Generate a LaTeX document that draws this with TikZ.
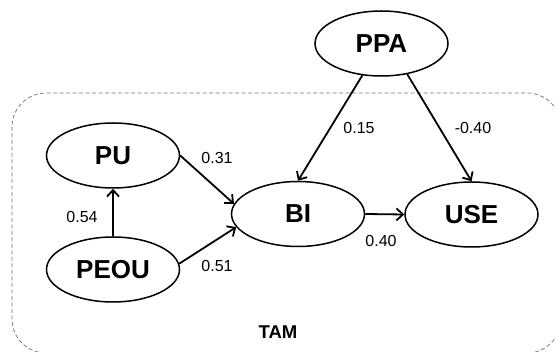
\documentclass[tikz,border=0pt]{standalone}
\usepackage{fontspec}
\setmainfont{Liberation Sans}
\usetikzlibrary{shapes.geometric,arrows.meta}
\tikzset{
  construct/.style={draw, ellipse, line width=1.5pt, minimum width=133pt, minimum height=65pt, inner sep=0pt,
    font=\fontsize{26}{30}\selectfont\bfseries},
  path/.style={draw, line width=1.8pt, -{Straight Barb[length=6.5pt,width=12pt]}},
  coef/.style={font=\fontsize{16}{19}\selectfont, inner sep=0pt},
  tambox/.style={draw=black!55, line width=0.7pt, dash pattern=on 4pt off 2.5pt, rounded corners=34pt}
}
\begin{document}
\begin{tikzpicture}[x=1pt,y=-1pt]
\useasboundingbox (0,0) rectangle (555,352);
\begin{scope}
\clip (0,0) rectangle (555,352);
\draw[tambox] (12,93) rectangle (561,353);
\end{scope}
\node[construct] (PPA) at (381.5,43.5) {PPA};
\node[construct] (PU) at (113,155.5) {PU};
\node[construct] (PEOU) at (113,269.5) {PEOU};
\node[construct] (BI) at (298,214) {BI};
\node[construct] (USE) at (471.5,214.5) {USE};
\draw[path] (PEOU.north) -- (PU.south);
\draw[path] (PU.east) -- (BI.171);
\draw[path] (PEOU.5) -- (BI.192);
\draw[path] (BI.east) -- (USE.west);
\draw[path] (PPA.239) -- (BI.north);
\draw[path] (PPA.-50) -- (USE.north);
\node[coef] (c031) at (217,158) {0.31};
\node[coef] (c054) at (82,217) {0.54};
\node[coef] (c051) at (217,266) {0.51};
\node[coef] (c015) at (359,128) {0.15};
\node[coef] (c040n) at (473,128) {-0.40};
\node[coef] (c040) at (381,241) {0.40};
\node[font=\fontsize{18.5}{22}\selectfont\bfseries] (TAM) at (278,332) {TAM};
\end{tikzpicture}
\end{document}
